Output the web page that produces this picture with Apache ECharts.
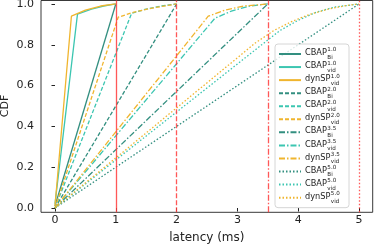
<!DOCTYPE html>
<html><head><meta charset="utf-8">
<script src="https://cdn.jsdelivr.net/npm/echarts@6/dist/echarts.min.js"></script>
<style>html,body{margin:0;padding:0;background:#fff}#c{width:374px;height:246px}</style>
</head><body><div id="c"></div>
<script>
// ---- data ----
const deadlines = [1, 2, 3.5, 5];
const xTicks = [0, 1, 2, 3, 4, 5];
const yTicks = [0, 0.2, 0.4, 0.6, 0.8, 1.0];

const cbapBi10  = [[0,0.01],[1,1]];
const cbapVid10 = [[0,0.02],[0.37,0.95],[0.6,0.975],[0.8,0.99],[1,1]];
const dynVid10  = [[0,0.01],[0.27,0.94],[0.5,0.97],[0.75,0.99],[1,1]];

const cbapBi20  = [[0,0],[2,1]];
const cbapVid20 = [[0,0],[1.26,0.954],[1.5,0.975],[1.75,0.99],[2,1]];
const dynVid20  = [[0,0],[1.04,0.935],[1.3,0.96],[1.6,0.98],[2,1]];

const cbapBi35  = [[0,0],[3.5,1]];
const cbapVid35 = [[0,0],[2.63,0.93],[2.9,0.965],[3.2,0.99],[3.5,1]];
const dynVid35  = [[0,0],[2.52,0.94],[2.8,0.97],[3.1,0.99],[3.5,1]];

const cbapBi50  = [[0,0],[5,1]];
const cbapVid50 = [[0,0],[3.4,0.80],[3.7,0.87],[4.0,0.92],[4.3,0.96],[4.6,0.985],[5,1]];
const dynVid50  = [[0,0],[3.3,0.81],[3.6,0.87],[3.9,0.915],[4.2,0.95],[4.5,0.975],[4.8,0.993],[5,1]];

const legendBase = ['CBAP','CBAP','dynSP','CBAP','CBAP','dynSP','CBAP','CBAP','dynSP','CBAP','CBAP','dynSP'];
const legendSup  = ['1.0','1.0','1.0','2.0','2.0','2.0','3.5','3.5','3.5','5.0','5.0','5.0'];
const legendSub  = ['Bi','vid','vid','Bi','vid','vid','Bi','vid','vid','Bi','vid','vid'];
const yTitle = 'CDF';
const xTitle = 'latency (ms)';

// ---- styles ----
const C_BI = '#338f80', C_VID = '#3cc6b1', C_DYN = '#f0b52e';
const FONT = 'DejaVu Sans';
const dataSets = [cbapBi10,cbapVid10,dynVid10,cbapBi20,cbapVid20,dynVid20,cbapBi35,cbapVid35,dynVid35,cbapBi50,cbapVid50,dynVid50];
const colors = [C_BI,C_VID,C_DYN];
const dashTypes = ['solid',[4,2],[6,2,1.5,2],[1.5,2]];
const names = legendBase.map((b,i)=>b+'_'+legendSup[i]+'_'+legendSub[i]);

const series = dataSets.map((d,i)=>({
  name: names[i], type:'line', data:d, symbol:'none', z: 3,
  lineStyle:{color:colors[i%3], width:1.3, type:dashTypes[Math.floor(i/3)]},
  itemStyle:{color:colors[i%3]}
}));
const vTypes = ['solid',[5,2],[6,2,1.5,2],[1.5,2]];
deadlines.forEach((d,i)=>{
  series.push({type:'line', data:[], silent:true, z:2,
    markLine:{silent:true, symbol:'none', label:{show:false},
      lineStyle:{color:'#ff3b3b', width:1.3, type:vTypes[i], opacity:0.85},
      data:[{xAxis:d}]}});
});

// legend text via graphic
const ctx = document.createElement('canvas').getContext('2d');
const baseFont = 8.2, smallFont = 5.6;
ctx.font = baseFont+'px "'+FONT+'"';
const legTop = 54, legStep = 13.06, textX = 305;
const graphics = [];
legendBase.forEach((b,i)=>{
  const y = legTop + i*legStep;
  const w = ctx.measureText(b).width;
  graphics.push({type:'text', left:textX, top:y-5, z:100, style:{text:b, font:baseFont+'px "'+FONT+'"', fill:'#222'}});
  graphics.push({type:'text', left:textX+w+0.5, top:y-7, z:100, style:{text:legendSup[i], font:smallFont+'px "'+FONT+'"', fill:'#222'}});
  graphics.push({type:'text', left:textX+w+0.5, top:y+0.5, z:100, style:{text:legendSub[i], font:smallFont+'px "'+FONT+'"', fill:'#222'}});
});
graphics.push({type:'text', x:5, y:106, rotation:Math.PI/2, z:100,
  style:{text:yTitle, font:'11px "'+FONT+'"', fill:'#222', align:'center', verticalAlign:'middle'}});

const chart = echarts.init(document.getElementById('c'), null, {renderer:'canvas'});
chart.setOption({
  animation:false,
  backgroundColor:'#fff',
  grid:{left:41, top:0.5, right:1.3, bottom:33.7, outerBoundsMode:'none',
     show:true, borderColor:'#222', borderWidth:0.9, backgroundColor:'transparent'},
  xAxis:{type:'value', min:-0.23, max:5.225,
    name:xTitle, nameLocation:'middle', nameGap:20, nameMoveOverlap:false,
    nameTextStyle:{fontFamily:FONT, fontSize:12, color:'#222'},
    axisLine:{show:false}, splitLine:{show:false},
    axisTick:{show:true, length:3.5, lineStyle:{color:'#222'}, customValues:xTicks},
    axisLabel:{fontFamily:FONT, fontSize:11, color:'#222', margin:2, customValues:xTicks, formatter:v=>String(v)}},
  yAxis:{type:'value', min:-0.021, max:1.017,
    axisLine:{show:false}, splitLine:{show:false},
    axisTick:{show:true, length:3.5, lineStyle:{color:'#222'}, customValues:yTicks},
    axisLabel:{show:false}},
  legend:{orient:'vertical', left:275, top:44, data:names,
    itemWidth:22, itemHeight:10, itemGap:3.06, padding:[5,3,5,3],
    itemStyle:{opacity:0, borderWidth:0},
    backgroundColor:'rgba(255,255,255,0.8)', borderColor:'#ccc', borderWidth:0.8, borderRadius:3,
    formatter:()=>' ', textStyle:{width:40, fontSize:8, lineHeight:10},
    selectedMode:false},
  graphic:graphics,
  series:series
});
// y tick labels placed through the axis scale
const yLabelGraphics = yTicks.map(v=>({
  type:'text', x:34, y:chart.convertToPixel({gridIndex:0}, [0, v])[1], z:100,
  style:{text:v.toFixed(1), font:'11px "'+FONT+'"', fill:'#222', align:'right', verticalAlign:'middle'}
}));
chart.setOption({graphic:graphics.concat(yLabelGraphics)});
</script></body></html>
